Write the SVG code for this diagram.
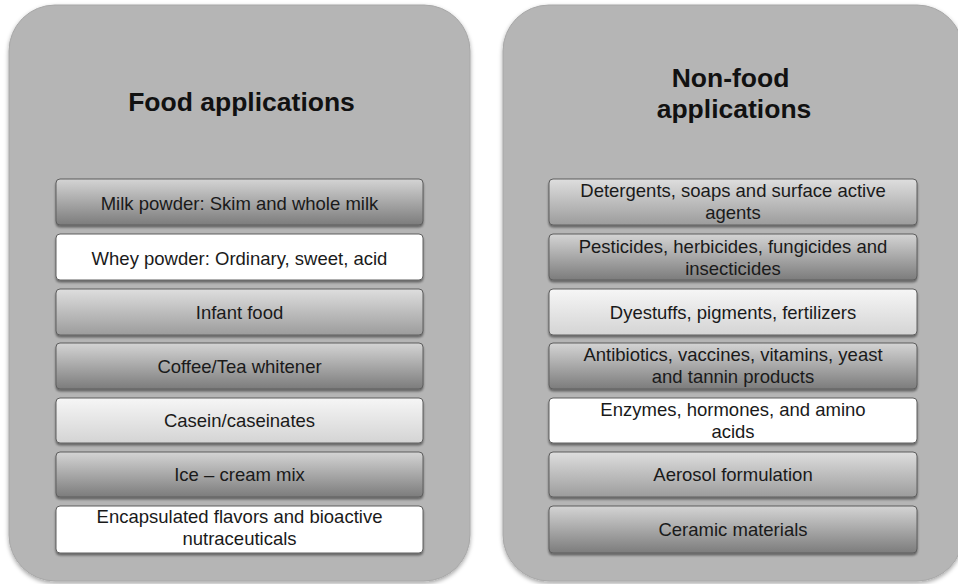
<svg xmlns="http://www.w3.org/2000/svg" width="958" height="584" viewBox="0 0 958 584">
<defs>
<linearGradient id="gDark" x1="0" y1="0" x2="0" y2="1">
<stop offset="0" stop-color="#d4d4d4"/><stop offset="1" stop-color="#7c7c7c"/>
</linearGradient>
<linearGradient id="gMid" x1="0" y1="0" x2="0" y2="1">
<stop offset="0" stop-color="#dedede"/><stop offset="1" stop-color="#9c9c9c"/>
</linearGradient>
<linearGradient id="gLight" x1="0" y1="0" x2="0" y2="1">
<stop offset="0" stop-color="#f6f6f6"/><stop offset="1" stop-color="#d4d4d4"/>
</linearGradient>
<filter id="shPanel" x="-5%" y="-5%" width="110%" height="110%">
<feDropShadow dx="0" dy="2" stdDeviation="2" flood-color="#000" flood-opacity="0.35"/>
</filter>
<filter id="shItem" x="-5%" y="-20%" width="110%" height="150%">
<feDropShadow dx="0" dy="2" stdDeviation="1.2" flood-color="#000" flood-opacity="0.45"/>
</filter>
</defs>
<style>
.panel{fill:#b5b5b5;stroke:#a8a8a8;stroke-width:1;filter:url(#shPanel)}
.item{stroke:#5e5e5e;stroke-width:1;filter:url(#shItem)}
.dark{fill:url(#gDark)}
.mid{fill:url(#gMid)}
.light{fill:url(#gLight)}
.white{fill:#ffffff}
.title{font-family:"Liberation Sans",Arial,sans-serif;font-weight:bold;font-size:26.5px;fill:#111;text-anchor:middle}
.t{font-family:"Liberation Sans",Arial,sans-serif;font-size:18.5px;fill:#1a1a1a;text-anchor:middle}
</style>
<rect width="958" height="584" fill="#ffffff"/>

<g id="food-panel">
<rect class="panel" x="9" y="5" width="461" height="576" rx="46" ry="46"/>
<text class="title" x="241.5" y="111">Food applications</text>
</g>
<g id="nonfood-panel">
<rect class="panel" x="503" y="5" width="460" height="576" rx="46" ry="46"/>
<text class="title" x="730.5" y="87">Non-food</text>
<text class="title" x="734" y="118">applications</text>
</g>

<g id="f1"><rect class="item dark" x="56" y="179" width="367" height="46" rx="4"/><text class="t" x="239.5" y="209.5">Milk powder: Skim and whole milk</text></g>
<g id="f2"><rect class="item white" x="56" y="234" width="367" height="46" rx="4"/><text class="t" x="239.5" y="264.5">Whey powder: Ordinary, sweet, acid</text></g>
<g id="f3"><rect class="item mid" x="56" y="289" width="367" height="46" rx="4"/><text class="t" x="239.5" y="319">Infant food</text></g>
<g id="f4"><rect class="item dark" x="56" y="343" width="367" height="46" rx="4"/><text class="t" x="239.5" y="373">Coffee/Tea whitener</text></g>
<g id="f5"><rect class="item light" x="56" y="398" width="367" height="45" rx="4"/><text class="t" x="239.5" y="426.5">Casein/caseinates</text></g>
<g id="f6"><rect class="item dark" x="56" y="452" width="367" height="45" rx="4"/><text class="t" x="239.5" y="480.5">Ice – cream mix</text></g>
<g id="f7"><rect class="item white" x="56" y="506" width="367" height="47" rx="4"/><text class="t" x="239.5" y="523">Encapsulated flavors and bioactive</text><text class="t" x="239.5" y="545">nutraceuticals</text></g>

<g id="n1"><rect class="item mid" x="549" y="179" width="368" height="46" rx="4"/><text class="t" x="733" y="197">Detergents, soaps and surface active</text><text class="t" x="733" y="219">agents</text></g>
<g id="n2"><rect class="item dark" x="549" y="234" width="368" height="46" rx="4"/><text class="t" x="733" y="252.5">Pesticides, herbicides, fungicides and</text><text class="t" x="733" y="275">insecticides</text></g>
<g id="n3"><rect class="item light" x="549" y="289" width="368" height="46" rx="4"/><text class="t" x="733" y="319">Dyestuffs, pigments, fertilizers</text></g>
<g id="n4"><rect class="item dark" x="549" y="343" width="368" height="46" rx="4"/><text class="t" x="733" y="360.5">Antibiotics, vaccines, vitamins, yeast</text><text class="t" x="733" y="382.5">and tannin products</text></g>
<g id="n5"><rect class="item white" x="549" y="398" width="368" height="45" rx="4"/><text class="t" x="733" y="415.5">Enzymes, hormones, and amino</text><text class="t" x="733" y="437.5">acids</text></g>
<g id="n6"><rect class="item mid" x="549" y="452" width="368" height="45" rx="4"/><text class="t" x="733" y="480.5">Aerosol formulation</text></g>
<g id="n7"><rect class="item dark" x="549" y="506" width="368" height="47" rx="4"/><text class="t" x="733" y="535.5">Ceramic materials</text></g>

<g id="connectors"/>
</svg>
